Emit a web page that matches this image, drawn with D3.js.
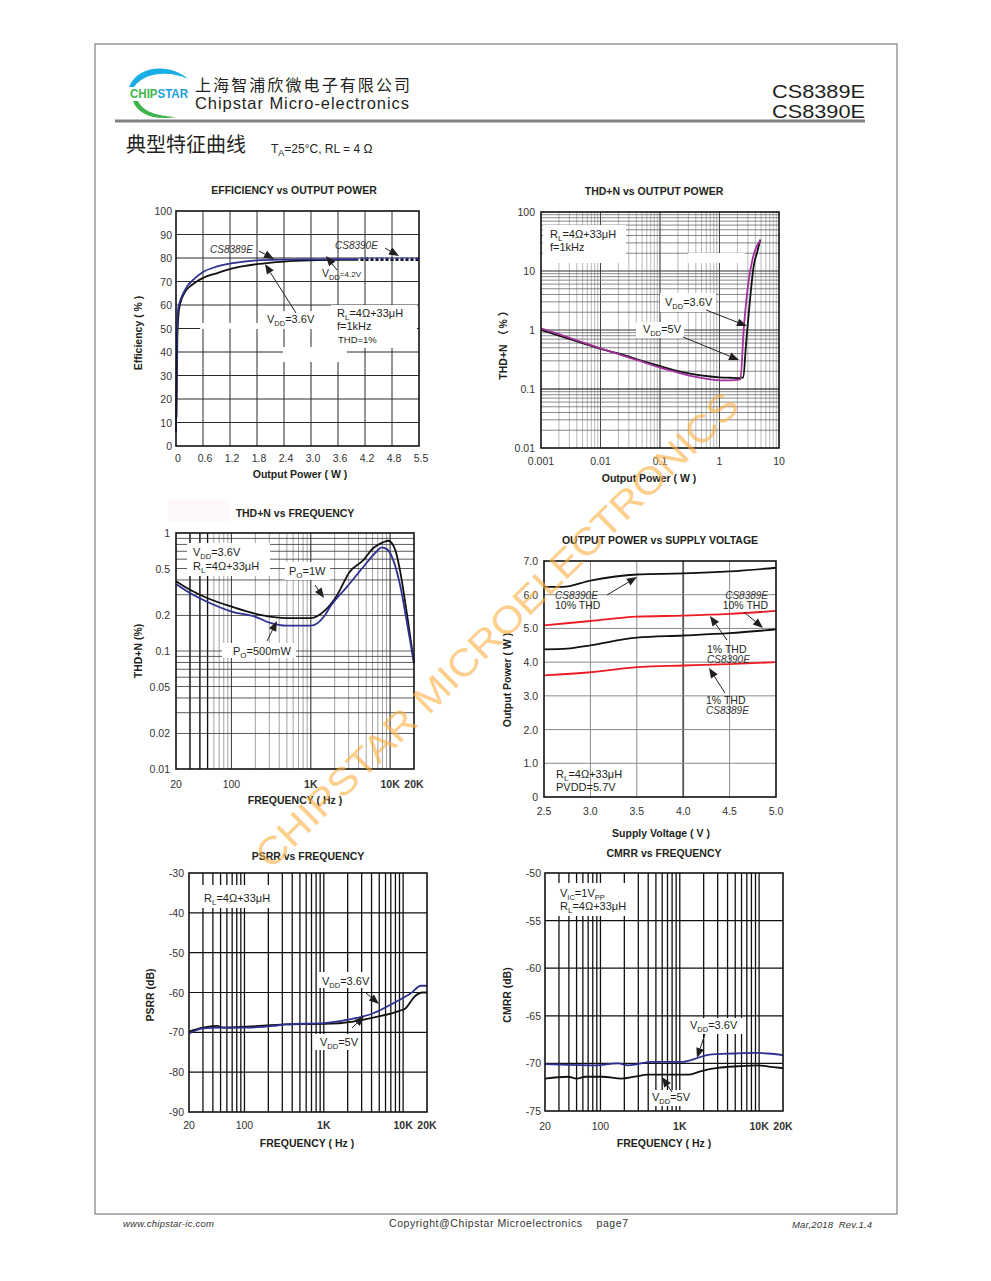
<!DOCTYPE html>
<html lang="zh-CN">
<head>
<meta charset="UTF-8">
<title>CS8389E / CS8390E 典型特征曲线</title>
<script src="https://d3js.org/d3.v7.min.js"></script>
<style>
  body { margin: 0; background: #fff; }
  svg { display: block; font-family: "Liberation Sans", Arial, sans-serif; }
</style>
</head>
<body>
<div id="page"></div>
<script>
// ---- data ----
// Efficiency vs output power  [W, %]
const effXLabels = ["0", "0.6", "1.2", "1.8", "2.4", "3.0", "3.6", "4.2", "4.8", "5.5"];
const effYTicks = [0, 10, 20, 30, 40, 50, 60, 70, 80, 90, 100];
const effVdd42 = [[0, 6], [0.02, 42], [0.04, 57], [0.08, 61], [0.15, 64.5], [0.25, 68], [0.4, 71], [0.6, 74], [0.9, 76.3], [1.2, 77.6], [1.5, 78.4], [1.8, 79], [2.4, 79.3], [3.0, 79.4], [3.6, 79.5], [4.05, 79.5]];
const effVdd36 = [[0.01, 12], [0.03, 46], [0.06, 57], [0.1, 61], [0.2, 65.5], [0.35, 68.5], [0.6, 71.5], [0.9, 73.5], [1.2, 75.3], [1.5, 76.5], [1.8, 77.4], [2.4, 78.5], [3.0, 79], [3.6, 79.2], [4.05, 79.2]];
const eff8390Blue = [[4.1, 79.8], [5.4, 79.8]];
const eff8390Black = [[4.1, 79.2], [5.4, 79.2]];

// THD+N vs output power  [W, %]
const thdPTicksX = [[0.001, "0.001"], [0.01, "0.01"], [0.1, "0.1"], [1, "1"], [10, "10"]];
const thdPTicksY = [[100, "100"], [10, "10"], [1, "1"], [0.1, "0.1"], [0.01, "0.01"]];
const thdPVdd36 = [[0.001, 1.07], [0.002, 0.85], [0.005, 0.62], [0.01, 0.49], [0.02, 0.39], [0.05, 0.29], [0.1, 0.23], [0.2, 0.19], [0.4, 0.16], [0.7, 0.145], [1, 0.14], [1.5, 0.14], [2.24, 0.145], [2.55, 1.0], [3.1, 7], [3.6, 16], [4.0, 23], [4.85, 33]];
const thdPVdd5 = [[0.001, 1.0], [0.002, 0.8], [0.005, 0.6], [0.01, 0.48], [0.02, 0.4], [0.05, 0.3], [0.1, 0.245], [0.2, 0.2], [0.4, 0.175], [0.7, 0.163], [1, 0.158], [1.5, 0.155], [2.1, 0.153], [2.5, 0.157], [2.8, 0.6], [3.1, 1.9], [3.75, 12], [4.3, 21], [4.85, 34]];

// THD+N vs frequency  [Hz, %]
const freqTicks = [[20, "20"], [100, "100"], [1000, "1K"], [10000, "10K"], [20000, "20K"]];
const thdFTicksY = [[1, "1"], [0.5, "0.5"], [0.2, "0.2"], [0.1, "0.1"], [0.05, "0.05"], [0.02, "0.02"], [0.01, "0.01"]];
const thdF1W = [[20, 0.39], [30, 0.33], [50, 0.28], [100, 0.238], [250, 0.2], [500, 0.19], [1000, 0.19], [1500, 0.22], [2100, 0.29], [3100, 0.47], [4600, 0.59], [6200, 0.75], [8000, 0.83], [9500, 0.86], [11600, 0.72], [13500, 0.46], [16400, 0.2], [20000, 0.079]];
const thdF500mW = [[20, 0.37], [30, 0.31], [50, 0.26], [100, 0.216], [200, 0.195], [300, 0.174], [500, 0.164], [1000, 0.164], [1500, 0.2], [1760, 0.238], [2860, 0.35], [4640, 0.52], [6800, 0.70], [7800, 0.755], [9100, 0.73], [11100, 0.575], [13500, 0.35], [16400, 0.17], [20000, 0.079]];

// Output power vs supply voltage  [V, W]
const pvTicksX = [2.5, 3.0, 3.5, 4.0, 4.5, 5.0];
const pvTicksY = [0, 1, 2, 3, 4, 5, 6, 7];
const pv8390THD10 = [[2.5, 6.23], [2.7, 6.23], [3.0, 6.42], [3.5, 6.6], [4.0, 6.63], [4.5, 6.69], [5.0, 6.8]];
const pv8389THD10 = [[2.5, 5.09], [3.0, 5.22], [3.5, 5.35], [4.0, 5.38], [4.5, 5.43], [5.0, 5.52]];
const pv8390THD1 = [[2.5, 4.38], [2.75, 4.40], [3.0, 4.50], [3.5, 4.73], [4.0, 4.79], [4.5, 4.86], [5.0, 4.97]];
const pv8389THD1 = [[2.5, 3.61], [3.0, 3.70], [3.5, 3.85], [4.0, 3.9], [4.5, 3.94], [5.0, 4.0]];

// PSRR vs frequency  [Hz, dB]
const psrrTicksY = [-30, -40, -50, -60, -70, -80, -90];
const psrrVdd36 = [[20, -70.3], [30, -69], [50, -68.8], [106, -68.8], [230, -68.4], [330, -68], [1000, -67.7], [1930, -66.9], [4200, -65.2], [7500, -62.7], [12500, -60.2], [16700, -58.3], [20000, -58.3]];
const psrrVdd5 = [[20, -69.8], [30, -68.8], [45, -68.4], [55, -68.8], [106, -68.6], [330, -68], [1000, -67.9], [2350, -67.3], [4200, -66.3], [9000, -64.6], [10700, -64], [14000, -61], [17500, -60], [20000, -60]];

// CMRR vs frequency  [Hz, dB]
const cmrrTicksY = [-50, -55, -60, -65, -70, -75];
const cmrrVdd36 = [[20, -70.08], [85, -70.2], [167, -70.0], [224, -70.2], [440, -69.85], [1040, -69.85], [1580, -69.5], [2270, -69.1], [4900, -68.96], [8800, -68.9], [13000, -68.96], [20000, -69.14]];
const cmrrVdd5 = [[20, -71.6], [39, -71.4], [50, -71.6], [65, -71.4], [105, -71.4], [185, -71.6], [270, -71.4], [400, -71.17], [1300, -71.17], [1870, -70.8], [3000, -70.47], [5400, -70.3], [9800, -70.2], [14000, -70.37], [20000, -70.5]];

// ---- page ----
const svg = d3.select("#page").append("svg").attr("width", 991).attr("height", 1281);
const INK = "#231f20", BLUE = "#2e3192", MAG = "#a3319e", RED = "#ed1c24";

// log grid positions (k * 10^n inside a domain)
function logGrid(lo, hi) {
  const out = [];
  for (let d = Math.pow(10, Math.floor(Math.log10(lo))); d < hi; d *= 10)
    for (let k = 1; k <= 9; k++) { const v = +(k * d).toPrecision(6); if (v > lo && v < hi) out.push(v); }
  return out;
}

function txt(g, x, y, s, o = {}) {
  return g.append("text").attr("x", x).attr("y", y).text(s)
    .attr("font-size", o.size || 11).attr("fill", o.fill || INK)
    .attr("font-weight", o.bold ? "bold" : null).attr("font-style", o.italic ? "italic" : null)
    .attr("text-anchor", o.anchor || "start");
}

// text with subscripts: parts = [[str, isSub, size], ...]
function rich(g, x, y, parts, size = 11, subSize) {
  const t = g.append("text").attr("x", x).attr("y", y).attr("font-size", size).attr("fill", INK);
  let down = false;
  parts.forEach(([s, sub, sz]) => {
    const ts = t.append("tspan").text(s);
    if (sub && !down) { ts.attr("dy", 3); down = true; }
    else if (!sub && down) { ts.attr("dy", -3); down = false; }
    ts.attr("font-size", sz || (sub ? (subSize || size * 0.7) : size));
  });
  return t;
}

function arrow(g, x1, y1, x2, y2) {
  const a = Math.atan2(y2 - y1, x2 - x1), L = 10, W = 4;
  const bx = x2 - L * Math.cos(a), by = y2 - L * Math.sin(a);
  g.append("line").attr("x1", x1).attr("y1", y1).attr("x2", bx).attr("y2", by)
    .attr("stroke", INK).attr("stroke-width", 1);
  g.append("path").attr("fill", INK).attr("d",
    `M${x2},${y2}L${bx + W * Math.sin(a)},${by - W * Math.cos(a)}L${bx - W * Math.sin(a)},${by + W * Math.cos(a)}Z`);
}

function chart(o) {
  const g = svg.append("g");
  const [x0, x1] = o.x.range(), [y1, y0] = o.y.range();
  (o.vgrid || []).forEach(s => s.vals.forEach(v => g.append("line")
    .attr("x1", o.x(v)).attr("x2", o.x(v)).attr("y1", y0).attr("y2", y1)
    .attr("stroke", s.stroke).attr("stroke-width", s.w)));
  (o.hgrid || []).forEach(s => s.vals.forEach(v => g.append("line")
    .attr("y1", o.y(v)).attr("y2", o.y(v)).attr("x1", x0).attr("x2", x1)
    .attr("stroke", s.stroke).attr("stroke-width", s.w)));
  (o.whites || []).forEach(r => g.append("rect").attr("x", r[0]).attr("y", r[1])
    .attr("width", r[2]).attr("height", r[3]).attr("fill", "#fff"));
  o.series.forEach(s => {
    g.append("path").datum(s.data).attr("fill", "none").attr("stroke", s.color)
      .attr("stroke-width", s.w || 1.8).attr("stroke-dasharray", s.dash || null)
      .attr("d", d3.line().x(d => o.x(d[0])).y(d => o.y(d[1])).curve(s.curve || d3.curveMonotoneX));
  });
  g.append("rect").attr("x", x0).attr("y", y0).attr("width", x1 - x0).attr("height", y1 - y0)
    .attr("fill", "none").attr("stroke", "#111").attr("stroke-width", 1.6);
  o.yticks.forEach(([v, s]) => txt(g, o.yTickX, o.y(v) + 4, s, { size: 10.5, anchor: "end", fill: "#333" }));
  o.xticks.forEach(([v, s]) => txt(g, o.x(v) + (o.xShift || 0), o.xTickY, s,
    { size: 10.5, anchor: "middle", fill: "#333", bold: /K/.test(s) }));
  txt(g, o.title[1], o.title[2], o.title[0], { size: 10.5, bold: true, anchor: "middle" });
  txt(g, o.xTitle[1], o.xTitle[2], o.xTitle[0], { size: 10.5, bold: true, anchor: "middle" });
  g.append("text").attr("transform", `translate(${o.yTitle[1]},${o.yTitle[2]}) rotate(-90)`)
    .attr("text-anchor", "middle").attr("dominant-baseline", "central")
    .attr("font-size", 10.5).attr("font-weight", "bold").attr("fill", INK).text(o.yTitle[0]);
  return g;
}

// ---- header ----
const hd = svg.append("g");
hd.append("rect").attr("x", 95).attr("y", 44).attr("width", 802).attr("height", 1170)
  .attr("fill", "none").attr("stroke", "#666").attr("stroke-width", 1);
hd.append("path").attr("fill", "#1aaee6").attr("d", "M129,87 C138,64 172,64 188,79 C172,71 145,71 134,87 Z");
hd.append("path").attr("fill", "#3cb44a").attr("d", "M133,101 C137,114 155,121 176,117 C158,116 143,112 138,101 Z");
const lg = hd.append("text").attr("x", 130).attr("y", 98).attr("font-size", 12.5).attr("font-weight", "bold")
  .attr("textLength", 58).attr("lengthAdjust", "spacingAndGlyphs");
lg.append("tspan").attr("fill", "#3cb44a").text("CHIP");
lg.append("tspan").attr("fill", "#1a9fe0").text("STAR");
txt(hd, 195, 91, "上海智浦欣微电子有限公司", { size: 16 })
  .attr("font-family", "Noto Sans CJK SC").attr("textLength", 215).attr("lengthAdjust", "spacing");
txt(hd, 195, 109, "Chipstar Micro-electronics", { size: 16.5 }).attr("textLength", 214);
txt(hd, 865, 97.5, "CS8389E", { size: 19, anchor: "end" })
  .attr("textLength", 93).attr("lengthAdjust", "spacingAndGlyphs");
txt(hd, 865, 117.5, "CS8390E", { size: 19, anchor: "end" })
  .attr("textLength", 93).attr("lengthAdjust", "spacingAndGlyphs");
hd.append("line").attr("x1", 115).attr("x2", 865).attr("y1", 121).attr("y2", 121)
  .attr("stroke", "#808080").attr("stroke-width", 3);
txt(hd, 126, 152, "典型特征曲线", { size: 20 }).attr("font-family", "Noto Sans CJK SC");
rich(hd, 271, 153, [["T"], ["A", true, 9], ["=25°C, RL = 4 Ω"]], 12);

// ---- 1. efficiency ----
{
  const x = d3.scaleLinear([0, 5.4], [176, 419]), y = d3.scaleLinear([0, 100], [446, 211]);
  const g = chart({
    x, y,
    vgrid: [{ vals: d3.range(0.6, 5.3, 0.6), stroke: "#2a2a2a", w: 1 }],
    hgrid: [{ vals: effYTicks.slice(1, -1), stroke: "#2a2a2a", w: 1 }],
    whites: [[200, 323, 217, 6], [262, 311, 66, 16], [331, 305, 86, 43], [283, 347, 64, 15]],
    series: [
      { data: effVdd36, color: "#111" },
      { data: effVdd42, color: BLUE },
      { data: eff8390Black, color: "#111", dash: "3,2", w: 2, curve: d3.curveLinear },
      { data: eff8390Blue, color: BLUE, dash: "3,2", w: 2, curve: d3.curveLinear }
    ],
    yticks: effYTicks.map(v => [v, String(v)]), yTickX: 172,
    xticks: effXLabels.map((s, i) => [i * 0.6, s]), xTickY: 462, xShift: 2,
    title: ["EFFICIENCY vs OUTPUT POWER", 294, 194],
    xTitle: ["Output Power ( W )", 300, 478],
    yTitle: ["Efficiency ( % )", 138, 333]
  });
  txt(g, 210, 253, "CS8389E", { size: 10, italic: true, fill: "#333" });
  arrow(g, 259, 251, 274, 259);
  txt(g, 335, 249, "CS8390E", { size: 10, italic: true, fill: "#333" });
  arrow(g, 385, 248, 399, 256);
  rich(g, 322, 277, [["V"], ["DD", true, 7.5], ["=4.2V", false, 8]], 10.5);
  arrow(g, 337, 270, 326, 256);
  rich(g, 267, 323, [["V"], ["DD", true, 7.5], ["=3.6V"]]);
  arrow(g, 296, 313, 265, 264);
  rich(g, 337, 317, [["R"], ["L", true, 8], ["=4Ω+33μH"]]);
  txt(g, 337, 330, "f=1kHz");
  txt(g, 338, 343, "THD=1%", { size: 9.5 });
}

// ---- 2. THD+N vs output power ----
{
  const x = d3.scaleLog([0.001, 10], [541, 779]), y = d3.scaleLog([0.01, 100], [448, 212]);
  const g = chart({
    x, y,
    vgrid: [{ vals: logGrid(0.001, 10).filter(v => !/^1/.test(String(v))), stroke: "#999", w: 0.7 },
            { vals: [0.01, 0.1, 1], stroke: "#444", w: 1 }],
    hgrid: [{ vals: logGrid(0.01, 100).filter(v => !/^1/.test(String(v))), stroke: "#555", w: 0.7 },
            { vals: [0.1, 1, 10], stroke: "#333", w: 1 }],
    whites: [[543, 225, 83, 38], [660, 293, 56, 19], [636, 322, 48, 16], [688, 253, 57, 10]],
    series: [
      { data: thdPVdd5, color: "#111" },
      { data: thdPVdd36, color: MAG }
    ],
    yticks: thdPTicksY, yTickX: 535,
    xticks: thdPTicksX, xTickY: 465,
    title: ["THD+N vs OUTPUT POWER", 654, 195],
    xTitle: ["Output Power ( W )", 649, 482],
    yTitle: ["THD+N （ % ）", 503, 343]
  });
  rich(g, 550, 238, [["R"], ["L", true, 8], ["=4Ω+33μH"]]);
  txt(g, 550, 251, "f=1kHz");
  rich(g, 665, 306, [["V"], ["DD", true, 7.5], ["=3.6V"]]);
  arrow(g, 706, 310, 747, 326);
  rich(g, 643, 333, [["V"], ["DD", true, 7.5], ["=5V"]]);
  arrow(g, 683, 337, 739, 360);
}

// ---- 3. THD+N vs frequency ----
{
  svg.append("rect").attr("x", 168).attr("y", 500).attr("width", 62).attr("height", 22).attr("fill", "#fef8f8");
  const x = d3.scaleLog([20, 20000], [176, 414]), y = d3.scaleLog([0.01, 1], [769, 533]);
  const g = chart({
    x, y,
    vgrid: [{ vals: logGrid(20, 20000), stroke: "#8a8a8a", w: 0.8 },
            { vals: [100, 1000, 10000], stroke: "#444", w: 1 },
            { vals: [30, 40, 50], stroke: "#111", w: 1.3 }],
    hgrid: [{ vals: logGrid(0.01, 1), stroke: "#333", w: 0.8 }],
    whites: [[187, 543, 83, 33], [285, 562, 45, 18], [222, 643, 74, 15]],
    series: [
      { data: thdF1W, color: "#111" },
      { data: thdF500mW, color: BLUE }
    ],
    yticks: thdFTicksY, yTickX: 170,
    xticks: freqTicks, xTickY: 788,
    title: ["THD+N vs FREQUENCY", 295, 517],
    xTitle: ["FREQUENCY ( Hz )", 295, 804],
    yTitle: ["THD+N (%)", 138, 651]
  });
  rich(g, 193, 556, [["V"], ["DD", true, 7.5], ["=3.6V"]]);
  rich(g, 193, 570, [["R"], ["L", true, 8], ["=4Ω+33μH"]]);
  rich(g, 289, 575, [["P"], ["O", true, 8], ["=1W"]]);
  arrow(g, 315, 585, 324, 598);
  rich(g, 233, 655, [["P"], ["O", true, 8], ["=500mW"]]);
  arrow(g, 267, 641, 277, 621);
}

// ---- 4. output power vs supply voltage ----
{
  const x = d3.scaleLinear([2.5, 5.0], [544, 776]), y = d3.scaleLinear([0, 7], [797, 561]);
  const g = chart({
    x, y,
    vgrid: [{ vals: [3.0, 3.5, 4.5], stroke: "#8a8a8a", w: 1 }, { vals: [4.0], stroke: "#555", w: 1.8 }],
    hgrid: [{ vals: pvTicksY.slice(1, -1), stroke: "#8a8a8a", w: 1 }],
    series: [
      { data: pv8390THD10, color: "#111" },
      { data: pv8389THD10, color: RED },
      { data: pv8390THD1, color: "#111" },
      { data: pv8389THD1, color: RED }
    ],
    yticks: pvTicksY.map(v => [v, v === 0 ? "0" : v.toFixed(1)]), yTickX: 538,
    xticks: pvTicksX.map(v => [v, v.toFixed(1)]), xTickY: 815,
    title: ["OUTPUT POWER vs SUPPLY VOLTAGE", 660, 544],
    xTitle: ["Supply Voltage ( V )", 661, 837],
    yTitle: ["Output Power ( W )", 507, 680]
  });
  txt(g, 555, 599, "CS8390E", { size: 10, italic: true, fill: "#333" });
  txt(g, 555, 609, "10% THD", { size: 10.5 });
  arrow(g, 607, 595, 637, 577);
  txt(g, 768, 599, "CS8389E", { size: 10, italic: true, fill: "#333", anchor: "end" });
  txt(g, 768, 609, "10% THD", { size: 10.5, anchor: "end" });
  arrow(g, 744, 612, 763, 628);
  txt(g, 707, 653, "1% THD", { size: 10.5 });
  txt(g, 707, 663, "CS8390E", { size: 10, italic: true, fill: "#333" });
  arrow(g, 727, 640, 710, 616);
  txt(g, 706, 704, "1% THD", { size: 10.5 });
  txt(g, 706, 714, "CS8389E", { size: 10, italic: true, fill: "#333" });
  arrow(g, 725, 693, 709, 668);
  rich(g, 556, 778, [["R"], ["L", true, 8], ["=4Ω+33μH"]]);
  txt(g, 556, 791, "PVDD=5.7V");
}

// ---- 5. PSRR ----
{
  const x = d3.scaleLog([20, 20000], [189, 427]), y = d3.scaleLinear([-90, -30], [1112, 873]);
  const g = chart({
    x, y,
    vgrid: [{ vals: logGrid(20, 20000), stroke: "#111", w: 1.3 }],
    hgrid: [{ vals: psrrTicksY.slice(1, -1), stroke: "#111", w: 1.2 }],
    whites: [[191, 885, 81, 23], [318, 972, 48, 16], [314, 1034, 46, 16]],
    series: [
      { data: psrrVdd5, color: "#111" },
      { data: psrrVdd36, color: BLUE }
    ],
    yticks: psrrTicksY.map(v => [v, String(v)]), yTickX: 184,
    xticks: freqTicks, xTickY: 1129,
    title: ["PSRR vs FREQUENCY", 308, 860],
    xTitle: ["FREQUENCY ( Hz )", 307, 1147],
    yTitle: ["PSRR (dB)", 150, 995]
  });
  rich(g, 204, 902, [["R"], ["L", true, 8], ["=4Ω+33μH"]]);
  rich(g, 322, 985, [["V"], ["DD", true, 7.5], ["=3.6V"]]);
  arrow(g, 366, 993, 379, 1004);
  rich(g, 320, 1046, [["V"], ["DD", true, 7.5], ["=5V"]]);
  arrow(g, 352, 1028, 364, 1016);
}

// ---- 6. CMRR ----
{
  const x = d3.scaleLog([20, 20000], [545, 783]), y = d3.scaleLinear([-75, -50], [1111, 873]);
  const g = chart({
    x, y,
    vgrid: [{ vals: logGrid(20, 20000), stroke: "#111", w: 1.3 }],
    hgrid: [{ vals: cmrrTicksY.slice(1, -1), stroke: "#111", w: 1.2 }],
    whites: [[548, 883, 84, 33], [688, 1018, 57, 16], [650, 1090, 42, 16]],
    series: [
      { data: cmrrVdd5, color: "#111" },
      { data: cmrrVdd36, color: BLUE }
    ],
    yticks: cmrrTicksY.map(v => [v, String(v)]), yTickX: 541,
    xticks: freqTicks, xTickY: 1130,
    title: ["CMRR vs FREQUENCY", 664, 857],
    xTitle: ["FREQUENCY ( Hz )", 664, 1147],
    yTitle: ["CMRR (dB)", 507, 995]
  });
  rich(g, 560, 897, [["V"], ["IC", true, 7.5], ["=1V"], ["PP", true, 7.5]]);
  rich(g, 560, 910, [["R"], ["L", true, 8], ["=4Ω+33μH"]]);
  rich(g, 690, 1029, [["V"], ["DD", true, 7.5], ["=3.6V"]]);
  arrow(g, 705, 1034, 697, 1058);
  rich(g, 652, 1101, [["V"], ["DD", true, 7.5], ["=5V"]]);
  arrow(g, 672, 1092, 662, 1077);
}

// ---- watermark + footer ----
svg.append("text").attr("transform", "translate(497,630) rotate(-44.5)")
  .attr("text-anchor", "middle").attr("dominant-baseline", "central")
  .attr("font-size", 38).attr("fill", "#fbb040").attr("opacity", 0.6)
  .attr("textLength", 660).attr("lengthAdjust", "spacingAndGlyphs")
  .text("CHIPSTAR MICROELECTRONICS");

txt(svg, 123, 1227, "www.chipstar-ic.com", { size: 9.5, italic: true, fill: "#333" }).attr("textLength", 91);
txt(svg, 389, 1227, "Copyright@Chipstar Microelectronics    page7", { size: 10.5, fill: "#333" })
  .attr("textLength", 239).style("white-space", "pre");
txt(svg, 872, 1228, "Mar,2018  Rev.1.4", { size: 9.5, italic: true, fill: "#333", anchor: "end" })
  .attr("textLength", 80).style("white-space", "pre");
</script>
</body>
</html>
